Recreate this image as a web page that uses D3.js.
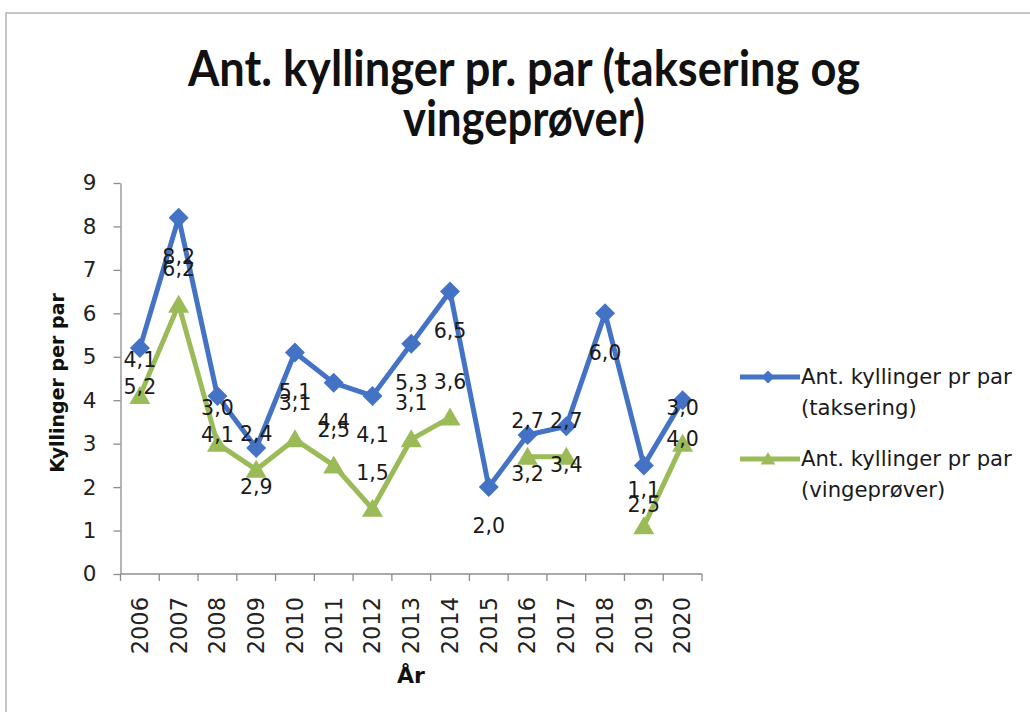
<!DOCTYPE html>
<html><head><meta charset="utf-8">
<script src="https://cdn.jsdelivr.net/npm/d3@7"></script>
<style>
html,body{margin:0;padding:0;background:#fff;}
svg{display:block;}
</style></head>
<body>
<svg id="chart" width="1030" height="712"></svg>
<script>
const years = ["2006","2007","2008","2009","2010","2011","2012","2013","2014","2015","2016","2017","2018","2019","2020"];
const taksering = [5.2, 8.2, 4.1, 2.9, 5.1, 4.4, 4.1, 5.3, 6.5, 2.0, 3.2, 3.4, 6.0, 2.5, 4.0];
const vingeprover = [4.1, 6.2, 3.0, 2.4, 3.1, 2.5, 1.5, 3.1, 3.6, null, 2.7, 2.7, null, 1.1, 3.0];
const yTicks = [0,1,2,3,4,5,6,7,8,9];
const seriesNames = ["Ant. kyllinger pr par|(taksering)", "Ant. kyllinger pr par|(vingeprøver)"];
const titleLines = ["Ant. kyllinger pr. par (taksering og", "vingeprøver)"];
const yTitle = "Kyllinger per par";
const xTitle = "År";

const blue = "#4473c5", green = "#9bbb59";
const svg = d3.select("#chart");
const FONT = "'DejaVu Sans', sans-serif";

// frame
svg.append("path").attr("d","M6,712 L6,13 L1030,13").attr("fill","none").attr("stroke","#b4b4b4").attr("stroke-width",1.5);

const x = d3.scaleBand().domain(years).range([120.5, 702]).padding(0);
const y = d3.scaleLinear().domain([0,9]).range([574,183]);
const cx = d => x(d) + x.bandwidth()/2;

// title
const tl = [[titleLines[0], 86, 672],[titleLines[1], 136, 242]];
tl.forEach(([t, by, w]) => {
  svg.append("text").attr("x",524).attr("y",by).attr("text-anchor","middle")
    .attr("font-family","Lato, 'Open Sans', sans-serif").attr("font-weight","bold")
    .attr("font-size",49).attr("fill","#111")
    .attr("textLength",w).attr("lengthAdjust","spacingAndGlyphs").text(t);
});

// y axis
const yAxis = d3.axisLeft(y).tickValues(yTicks).tickSize(7).tickSizeOuter(0).tickPadding(17).tickFormat(d3.format("d"));
const gy = svg.append("g").attr("transform","translate(120.5,0)").call(yAxis);
gy.select(".domain").attr("stroke","#8c8c8c").attr("stroke-width",1.3);
gy.selectAll(".tick line").attr("stroke","#8c8c8c").attr("stroke-width",1.3);
gy.selectAll("text").attr("font-family",FONT).attr("font-size",21.5).attr("fill","#222");

// x axis (ticks between categories)
const gx = svg.append("g").attr("transform","translate(0,574)");
gx.append("line").attr("x1",x.range()[0]).attr("x2",x.range()[1]).attr("stroke","#8c8c8c").attr("stroke-width",1.3);
const bounds = years.map(d => x(d)).concat([x.range()[1]]);
gx.selectAll("line.tk").data(bounds).join("line").attr("class","tk")
  .attr("x1",d=>d).attr("x2",d=>d).attr("y1",0).attr("y2",7).attr("stroke","#8c8c8c").attr("stroke-width",1.3);
svg.append("g").selectAll("text").data(years).join("text")
  .attr("transform", d => `translate(${cx(d)},597) rotate(-90)`)
  .attr("text-anchor","end").attr("dy","0.35em")
  .attr("font-family",FONT).attr("font-size",22.5).attr("fill","#222").text(d=>d);

// axis titles
svg.append("text").attr("transform","translate(64,383) rotate(-90)").attr("text-anchor","middle")
  .attr("font-family",FONT).attr("font-weight","bold").attr("font-size",19).attr("fill","#111").text(yTitle);
svg.append("text").attr("x",411).attr("y",683).attr("text-anchor","middle")
  .attr("font-family",FONT).attr("font-weight","bold").attr("font-size",22).attr("fill","#111").text(xTitle);

// lines
const mk = vals => years.map((d,i)=>({year:d, v:vals[i]}));
const bData = mk(taksering), gData = mk(vingeprover);
const line = d3.line().defined(d=>d.v!=null).x(d=>cx(d.year)).y(d=>y(d.v));
svg.append("path").datum(gData).attr("d",line).attr("fill","none").attr("stroke",green).attr("stroke-width",5).attr("stroke-linejoin","round");
svg.append("path").datum(bData).attr("d",line).attr("fill","none").attr("stroke",blue).attr("stroke-width",5).attr("stroke-linejoin","round");

const diamond = s => `M0,${-s} L${s},0 L0,${s} L${-s},0Z`;
const triangle = s => `M0,${-s} L${s*1.05},${s*0.8} L${-s*1.05},${s*0.8}Z`;
svg.append("g").selectAll("path").data(gData.filter(d=>d.v!=null)).join("path")
  .attr("transform",d=>`translate(${cx(d.year)},${y(d.v)})`).attr("d",triangle(10)).attr("fill",green);
svg.append("g").selectAll("path").data(bData).join("path")
  .attr("transform",d=>`translate(${cx(d.year)},${y(d.v)})`).attr("d",diamond(10)).attr("fill",blue);

// data labels
const fmt = v => d3.format(".1f")(v).replace(".",",");
svg.append("g").selectAll("text").data(bData).join("text")
  .attr("x",d=>cx(d.year)).attr("y",d=>y(d.v)+39).attr("dy","0.35em").attr("text-anchor","middle")
  .attr("font-family",FONT).attr("font-size",20.5).attr("fill","#1a1a1a").text(d=>fmt(d.v));
svg.append("g").selectAll("text").data(gData.filter(d=>d.v!=null)).join("text")
  .attr("x",d=>cx(d.year)).attr("y",d=>y(d.v)-36).attr("dy","0.35em").attr("text-anchor","middle")
  .attr("font-family",FONT).attr("font-size",20.5).attr("fill","#1a1a1a").text(d=>fmt(d.v));

// legend
const legend = [{name:seriesNames[0], color:blue, sym:diamond(6.5), y:377},{name:seriesNames[1], color:green, sym:triangle(7), y:459}];
legend.forEach(l => {
  const g = svg.append("g");
  g.append("line").attr("x1",740).attr("x2",800).attr("y1",l.y).attr("y2",l.y).attr("stroke",l.color).attr("stroke-width",5);
  g.append("path").attr("transform",`translate(768,${l.y})`).attr("d",l.sym).attr("fill",l.color);
  l.name.split("|").forEach((t,i)=>{
    g.append("text").attr("x",801).attr("y",l.y+i*31).attr("dy","0.35em")
      .attr("font-family",FONT).attr("font-size",21.2).attr("fill","#1a1a1a").text(t);
  });
});
</script>
</body></html>
